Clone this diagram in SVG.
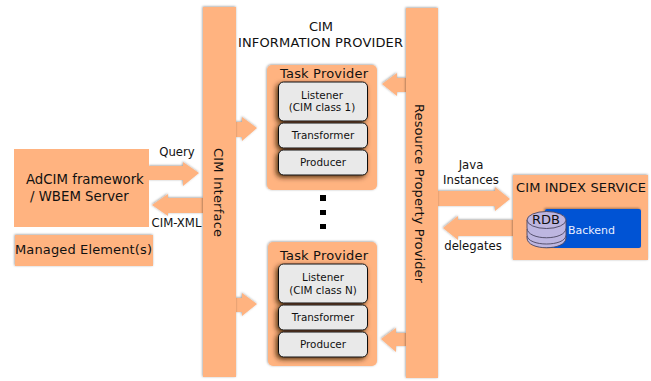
<svg xmlns="http://www.w3.org/2000/svg" width="651" height="381" viewBox="0 0 651 381">
<style>
text{font-family:"DejaVu Sans",sans-serif;fill:#111}
.o{fill:#ffb380}
.a{fill:#ffb380;filter:url(#s)}
.i{fill:#e9e9e9;stroke:#111;stroke-width:1}
.t9{font-size:10.4px;text-anchor:middle}
.t11{font-size:11.700px;text-anchor:middle}
.t13{font-size:13px}
.d{fill:#bdb6e0;stroke:#4a4560;stroke-width:.9}
</style>
<defs>
<filter id="s" x="-20%" y="-20%" width="140%" height="140%"><feDropShadow dx="-.5" dy="-.5" stdDeviation="1" flood-color="#000" flood-opacity=".4"/></filter>
<filter id="b" x="-20%" y="-20%" width="140%" height="140%"><feDropShadow dx="-2" dy="2" stdDeviation="2.500" flood-color="#3a1c00" flood-opacity=".85"/></filter>
<filter id="g" x="-20%" y="-20%" width="140%" height="140%"><feDropShadow dx="-1" dy="-1" stdDeviation="1.200" flood-color="#000" flood-opacity=".35"/></filter>
</defs>
<g id="connectors">
<path class="a" d="M149 166H183V162L199 173L183 186V180H149Z"/>
<path class="a" d="M203 198H168V194L152 205L168 216V213H203Z"/>
<path class="a" d="M236 122H242V117L257 128L242 141V137H236Z"/>
<path class="a" d="M236 298H242V293L257 304L242 316V312H236Z"/>
<path class="a" d="M406 78H397V73L382 84L397 96V92H406Z"/>
<path class="a" d="M406 333H396V328L381 339L396 352V346H406Z"/>
<path class="a" d="M438 191H495V187L510 199L495 211V206H438Z"/>
<path class="a" d="M513 220H458V216L443 228L458 240V236H513Z"/>
<g fill="#000"><rect x="320" y="195" width="6" height="6"/><rect x="320" y="210" width="6" height="5"/><rect x="320" y="224" width="6" height="5"/></g>
</g>
<g id="adcim"><rect class="o" x="14" y="149" width="135" height="78"/>
<text x="26" y="184" font-size="13.300">AdCIM framework</text><text x="30" y="201" font-size="13.300">/ WBEM Server</text></g>
<g id="managed"><rect class="a" x="15" y="235" width="138" height="31"/>
<text class="t13" x="15" y="254" textLength="137">Managed Element(s)</text></g>
<g id="cim-interface"><rect class="a" x="203" y="7" width="33" height="370"/>
<text class="t13" transform="translate(214 148) rotate(90)" textLength="89">CIM Interface</text></g>
<g id="resource"><rect class="a" x="406" y="8" width="32" height="370"/>
<text class="t13" transform="translate(415 104) rotate(90)" textLength="179">Resource Property Provider</text></g>
<g id="title"><text class="t13" x="321" y="31" text-anchor="middle">CIM</text><text class="t13" x="238" y="47" textLength="165">INFORMATION PROVIDER</text></g>
<g id="task-1"><rect class="a" x="267" y="65" width="110" height="125" rx="5"/>
<text class="t13" x="280" y="78" textLength="88">Task Provider</text>
<g filter="url(#b)"><rect class="i" x="278.500" y="82" width="89" height="39" rx="5"/><rect class="i" x="278.500" y="123" width="89" height="25" rx="5"/><rect class="i" x="278.500" y="150" width="89" height="25" rx="5"/></g>
<text class="t9" x="322" y="99">Listener</text><text class="t9" x="322" y="111">(CIM class 1)</text><text class="t9" x="323" y="139">Transformer</text><text class="t9" x="323" y="166">Producer</text></g>
<g id="task-n"><rect class="a" x="268" y="242" width="109" height="124" rx="5"/>
<text class="t13" x="280" y="260" textLength="88">Task Provider</text>
<g filter="url(#b)"><rect class="i" x="278.500" y="264" width="89" height="39" rx="5"/><rect class="i" x="278.500" y="305" width="89" height="25" rx="5"/><rect class="i" x="278.500" y="332" width="89" height="25" rx="5"/></g>
<text class="t9" x="323" y="281">Listener</text><text class="t9" x="323" y="294">(CIM class N)</text><text class="t9" x="323" y="321">Transformer</text><text class="t9" x="323" y="348">Producer</text></g>
<g id="labels">
<text class="t11" x="177" y="156">Query</text><text class="t11" x="176.500" y="227">CIM-XML</text>
<text class="t11" x="471" y="169">Java</text><text class="t11" x="471" y="184">Instances</text><text class="t11" x="473" y="250">delegates</text></g>
<g id="index"><rect class="a" x="513" y="175" width="135" height="85"/>
<text class="t13" x="516" y="192" textLength="130">CIM INDEX SERVICE</text>
<rect x="545" y="209" width="96" height="39" rx="2" fill="#0052d4" filter="url(#g)"/>
<text x="568" y="234" font-size="11" style="fill:#e8eeff">Backend</text>
<g id="rdb">
<path class="d" d="M527 236V238C527 251 566 251 566 238V236Z"/>
<path class="d" d="M527 229V235C527 247 566 247 566 235V229Z"/>
<path class="d" d="M527 220V228C527 241 566 241 566 228V220Z"/>
<ellipse class="d" cx="546.500" cy="220" rx="19.500" ry="8.500"/></g>
<text class="t13" x="532" y="224" textLength="28">RDB</text></g>
</svg>
